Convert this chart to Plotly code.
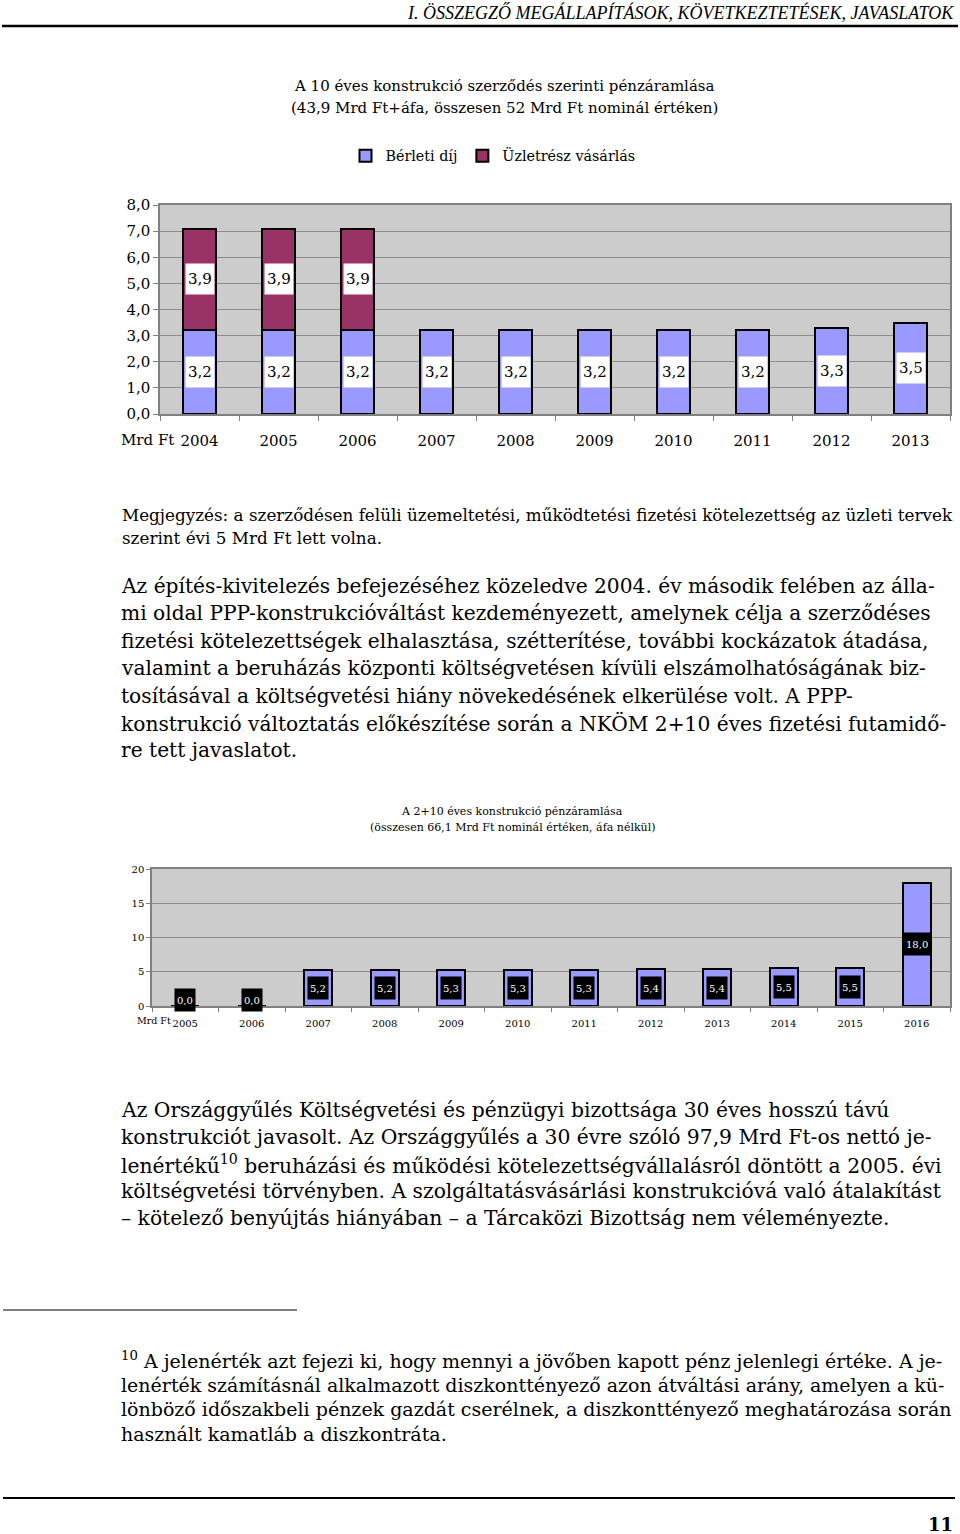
import plotly.graph_objects as go

# ---------------- data ----------------
years1 = ["2004", "2005", "2006", "2007", "2008", "2009", "2010", "2011", "2012", "2013"]
rent1 = [3.2, 3.2, 3.2, 3.2, 3.2, 3.2, 3.2, 3.2, 3.3, 3.5]
purchase1 = [3.9, 3.9, 3.9, None, None, None, None, None, None, None]
series1_names = ["Bérleti díj", "Üzletrész vásárlás"]

years2 = ["2005", "2006", "2007", "2008", "2009", "2010", "2011", "2012", "2013", "2014", "2015", "2016"]
pay2 = [0.0, 0.0, 5.2, 5.2, 5.3, 5.3, 5.3, 5.4, 5.4, 5.5, 5.5, 18.0]

title1 = ["A 10 éves konstrukció szerződés szerinti pénzáramlása",
          "(43,9 Mrd Ft+áfa, összesen 52 Mrd Ft nominál értéken)"]
title2 = ["A 2+10 éves konstrukció pénzáramlása",
          "(összesen 66,1 Mrd Ft nominál értéken, áfa nélkül)"]
unit_label = "Mrd Ft"

header = "I. ÖSSZEGZŐ MEGÁLLAPÍTÁSOK, KÖVETKEZTETÉSEK, JAVASLATOK"
note_lines = [
    "Megjegyzés: a szerződésen felüli üzemeltetési, működtetési fizetési kötelezettség az üzleti tervek",
    "szerint évi 5 Mrd Ft lett volna.",
]
para1 = [
    "Az építés-kivitelezés befejezéséhez közeledve 2004. év második felében az álla-",
    "mi oldal PPP-konstrukcióváltást kezdeményezett, amelynek célja a szerződéses",
    "fizetési kötelezettségek elhalasztása, szétterítése, további kockázatok átadása,",
    "valamint a beruházás központi költségvetésen kívüli elszámolhatóságának biz-",
    "tosításával a költségvetési hiány növekedésének elkerülése volt. A PPP-",
    "konstrukció változtatás előkészítése során a NKÖM 2+10 éves fizetési futamidő-",
    "re tett javaslatot.",
]
para2 = [
    "Az Országgyűlés Költségvetési és pénzügyi bizottsága 30 éves hosszú távú",
    "konstrukciót javasolt. Az Országgyűlés a 30 évre szóló 97,9 Mrd Ft-os nettó je-",
    "lenértékű<sup>10</sup> beruházási és működési kötelezettségvállalásról döntött a 2005. évi",
    "költségvetési törvényben. A szolgáltatásvásárlási konstrukcióvá való átalakítást",
    "– kötelező benyújtás hiányában – a Tárcaközi Bizottság nem véleményezte.",
]
footnote = [
    "<sup>10</sup> A jelenérték azt fejezi ki, hogy mennyi a jövőben kapott pénz jelenlegi értéke. A je-",
    "lenérték számításnál alkalmazott diszkonttényező azon átváltási arány, amelyen a kü-",
    "lönböző időszakbeli pénzek gazdát cserélnek, a diszkonttényező meghatározása során",
    "használt kamatláb a diszkontráta.",
]
page_no = "11"

# ---------------- helpers ----------------
W, H = 960, 1534
FONT = "DejaVu Serif"


def px(x):
    return x / W


def py(y):
    return 1 - y / H


def fmt(v):
    return f"{v:.1f}".replace(".", ",")


BLUE = "#9999FF"
MAROON = "#993366"
PLOTBG = "#CCCCCC"
GRID = "#8C8C8C"

fig = go.Figure()

# chart 1 traces
fig.add_trace(go.Bar(x=years1, y=rent1, name=series1_names[0],
                     marker=dict(color=BLUE, line=dict(color="black", width=2)),
                     xaxis="x", yaxis="y", hoverinfo="skip"))
fig.add_trace(go.Bar(x=years1, y=purchase1, name=series1_names[1],
                     marker=dict(color=MAROON, line=dict(color="black", width=2)),
                     xaxis="x", yaxis="y", hoverinfo="skip"))
# chart 2 trace
fig.add_trace(go.Bar(x=years2, y=pay2, name="2+10", showlegend=False,
                     marker=dict(color=BLUE, line=dict(color="black", width=2)),
                     xaxis="x2", yaxis="y2", hoverinfo="skip"))

annotations = []

# data labels chart 1 (x given as category index)
for i, (r, p) in enumerate(zip(rent1, purchase1)):
    annotations.append(dict(x=i, y=r / 2, xref="x", yref="y", text=fmt(r), showarrow=False,
                            bgcolor="white", width=28, height=30, borderpad=0,
                            font=dict(family=FONT, size=15, color="black")))
    if p is not None:
        annotations.append(dict(x=i, y=r + p / 2, xref="x", yref="y", text=fmt(p), showarrow=False,
                                bgcolor="white", width=28, height=30, borderpad=0,
                                font=dict(family=FONT, size=15, color="black")))

# data labels chart 2
for i, v in enumerate(pay2):
    annotations.append(dict(x=i, y=v / 2, xref="x2", yref="y2", text=fmt(v), showarrow=False,
                            bgcolor="black", height=18, borderpad=2, yshift=6 if v == 0 else 0,
                            font=dict(family=FONT, size=10, color="white")))


def txt(text, x, y, size, xanchor="left", **kw):
    d = dict(text=text, x=px(x), y=py(y), xref="paper", yref="paper", showarrow=False,
             xanchor=xanchor, yanchor="middle", align=xanchor if xanchor != "center" else "center",
             font=dict(family=kw.pop("family", FONT), size=size, color="black"))
    d.update(kw)
    annotations.append(d)


# header
txt("<i>" + header + "</i>", 956, 12, 18, xanchor="right", family="Liberation Serif")
# titles chart 1
txt(title1[0], 505, 86, 15, xanchor="center")
txt(title1[1], 505, 108, 15, xanchor="center")
# unit chart 1
txt(unit_label, 119, 440, 15)
# note
for i, line in enumerate(note_lines):
    txt(line, 120, 515 + 23 * i, 16.8)
# paragraph 1
for i, line in enumerate(para1):
    txt(line, 119, 586 + 27.4 * i, 20.2)
# titles chart 2
txt(title2[0], 512, 811, 11, xanchor="center")
txt(title2[1], 512, 827, 11, xanchor="center")
txt(unit_label, 135, 1020, 9.5)
# paragraph 2
for i, line in enumerate(para2):
    txt(line, 119, 1110 + 27.1 * i, 20.3)
# footnote
for i, line in enumerate(footnote):
    txt(line, 119, 1360 + 24.7 * i, 19)
# page number
txt("<b>" + page_no + "</b>", 955, 1524, 18, xanchor="right")

shapes = [
    dict(type="line", xref="paper", yref="paper", x0=px(2), x1=px(958), y0=py(26), y1=py(26),
         line=dict(color="black", width=2.5)),
    dict(type="line", xref="paper", yref="paper", x0=px(3), x1=px(297), y0=py(1310), y1=py(1310),
         line=dict(color="black", width=1)),
    dict(type="line", xref="paper", yref="paper", x0=px(3), x1=px(955), y0=py(1498), y1=py(1498),
         line=dict(color="black", width=2)),
]

fig.update_layout(
    width=W, height=H,
    autosize=False,
    margin=dict(l=0, r=0, t=0, b=0, pad=0),
    paper_bgcolor="white",
    plot_bgcolor=PLOTBG,
    barmode="stack",
    bargap=0.58,
    separators=",.",
    showlegend=True,
    legend=dict(orientation="h", x=px(493), y=py(156), xanchor="center", yanchor="middle",
                traceorder="normal", font=dict(family=FONT, size=14.3, color="black"),
                itemwidth=30, bgcolor="rgba(0,0,0,0)"),
    annotations=annotations,
    shapes=shapes,
    xaxis=dict(domain=[px(160), px(950)], anchor="y", type="category", automargin=False,
               range=[-0.5, len(years1) - 0.5],
               showline=True, linecolor="#808080", linewidth=2, mirror=True,
               ticks="outside", ticklen=5, tickcolor="#808080", tickson="boundaries",
               ticklabelstandoff=12, tickangle=0,
               tickfont=dict(family=FONT, size=15, color="black"), showgrid=False),
    yaxis=dict(domain=[py(414), py(205)], anchor="x", range=[0, 8], dtick=1, tickformat=".1f",
               automargin=False,
               showline=True, linecolor="#808080", linewidth=1.5, mirror=True,
               ticks="outside", ticklen=5, tickcolor="#808080",
               gridcolor=GRID, gridwidth=1, zeroline=False,
               tickfont=dict(family=FONT, size=15, color="black")),
    xaxis2=dict(domain=[px(152), px(950)], anchor="y2", type="category", automargin=False,
                range=[-0.5, len(years2) - 0.5],
                showline=True, linecolor="#808080", linewidth=2, mirror=True,
                ticks="outside", ticklen=4, tickcolor="#808080", tickson="boundaries",
                ticklabelstandoff=7, tickangle=0,
                tickfont=dict(family=FONT, size=10, color="black"), showgrid=False),
    yaxis2=dict(domain=[py(1006), py(869)], anchor="x2", range=[0, 20], dtick=5, tickformat="d",
                automargin=False,
                showline=True, linecolor="#808080", linewidth=1.5, mirror=True,
                ticks="outside", ticklen=4, tickcolor="#808080",
                gridcolor=GRID, gridwidth=1, zeroline=False,
                tickfont=dict(family=FONT, size=10, color="black")),
)

fig.write_html("out.html", config={"displayModeBar": False},
               post_script="document.body.style.margin='0';document.body.style.overflow='hidden';")
